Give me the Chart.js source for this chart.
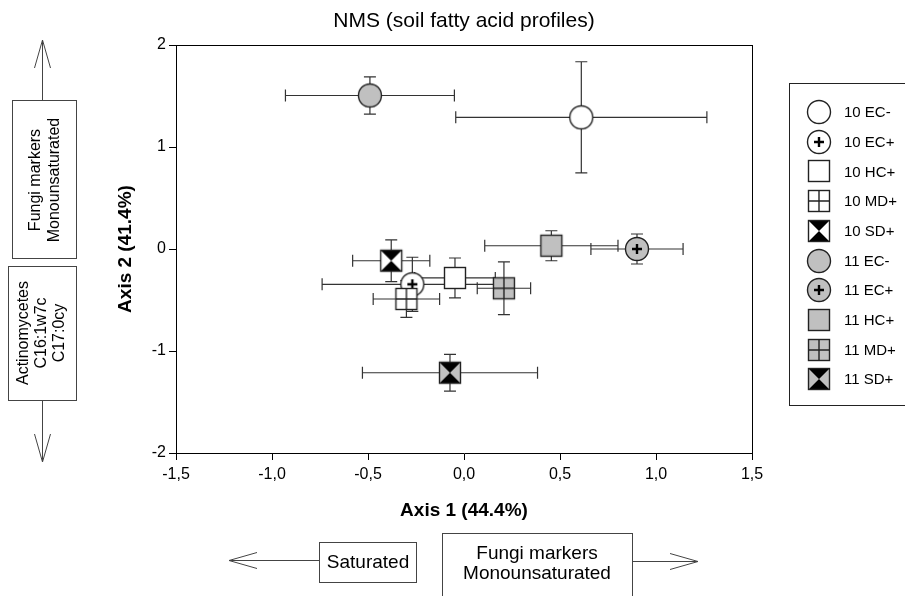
<!DOCTYPE html>
<html>
<head>
<meta charset="utf-8">
<script src="https://cdn.jsdelivr.net/npm/chart.js@4/dist/chart.umd.min.js"></script>
<style>
  html, body { margin: 0; padding: 0; background: #fff; }
  #wrap { width: 905px; height: 596px; }
</style>
</head>
<body>
<div id="wrap"><canvas id="c" width="905" height="596"></canvas></div>
<script>
// canvas text can't use CSS vars, so a literal Arial-ish stack
const FONT = "Arial, 'Liberation Sans', sans-serif";
const LINE = "#333";
const GRAY = "#c0c0c0";

// NMS centroids (axis 1 / axis 2) with +- error, one entry per group
const groups = ["10 EC-", "10 EC+", "10 HC+", "10 MD+", "10 SD+", "11 EC-", "11 EC+", "11 HC+", "11 MD+", "11 SD+"];
const axis1 = [0.611, -0.269, -0.047, -0.300, -0.379, -0.490, 0.901, 0.455, 0.208, -0.073];
const axis2 = [1.291, -0.346, -0.284, -0.490, -0.115, 1.505, 0.000, 0.032, -0.385, -1.213];
const err1 = [0.654, 0.470, 0.210, 0.173, 0.201, 0.440, 0.240, 0.347, 0.139, 0.456];
const err2 = [0.545, 0.265, 0.196, 0.180, 0.204, 0.183, 0.147, 0.147, 0.258, 0.180];
const shapes = ["circle", "circlePlus", "square", "squareCross", "hourglass",
                "circle", "circlePlus", "square", "squareCross", "hourglass"];
const fills = ["#fff", "#fff", "#fff", "#fff", "#fff", GRAY, GRAY, GRAY, GRAY, GRAY];

const xTicks = [-1.5, -1.0, -0.5, 0.0, 0.5, 1.0, 1.5];
const yTicks = [-2, -1, 0, 1, 2];

// small offscreen canvases used as pointStyle images
function marker(shape, fill) {
  const round = shape.startsWith("circle");
  const size = round ? 23 : 21;
  const d = size + 5;
  const c = document.createElement("canvas");
  c.width = d; c.height = d;
  const g = c.getContext("2d");
  const m = d / 2, h = size / 2;
  g.lineWidth = 1.4;
  g.strokeStyle = "#222";
  g.fillStyle = fill;
  if (round) {
    g.beginPath(); g.arc(m, m, h, 0, Math.PI * 2); g.fill(); g.stroke();
    if (shape === "circlePlus") {
      g.lineWidth = 2.4; g.strokeStyle = "#000";
      g.beginPath();
      g.moveTo(m - 5, m); g.lineTo(m + 5, m);
      g.moveTo(m, m - 5); g.lineTo(m, m + 5);
      g.stroke();
    }
  } else {
    const x0 = m - h, y0 = m - h;
    g.fillRect(x0, y0, size, size);
    if (shape === "hourglass") {
      g.fillStyle = "#000";
      g.beginPath();
      g.moveTo(x0, y0); g.lineTo(x0 + size, y0); g.lineTo(m, m); g.closePath();
      g.moveTo(x0, y0 + size); g.lineTo(x0 + size, y0 + size); g.lineTo(m, m); g.closePath();
      g.fill();
    }
    if (shape === "squareCross") {
      g.beginPath();
      g.moveTo(m, y0); g.lineTo(m, y0 + size);
      g.moveTo(x0, m); g.lineTo(x0 + size, m);
      g.stroke();
    }
    g.strokeRect(x0, y0, size, size);
  }
  return c;
}

const markers = shapes.map((s, i) => marker(s, fills[i]));

// later groups sit on top of earlier ones (Chart.js draws low `order` last)
const datasets = groups.map((name, i) => ({
  label: name,
  data: [{ x: axis1[i], y: axis2[i] }],
  err: [err1[i], err2[i]],
  order: groups.length - i,
  pointStyle: markers[i],
  pointRadius: 12,
  pointHoverRadius: 12,
}));

const CAP = 6;

// error bars go under every marker, so draw them all before the datasets
const errorBars = {
  id: "errorBars",
  beforeDatasetsDraw(chart) {
    const { ctx, scales: { x, y } } = chart;
    ctx.save();
    ctx.strokeStyle = LINE;
    ctx.lineWidth = 1.2;
    chart.data.datasets.forEach((ds) => {
      const p = ds.data[0];
      const [ex, ey] = ds.err;
      const px = x.getPixelForValue(p.x), py = y.getPixelForValue(p.y);
      const xl = x.getPixelForValue(p.x - ex), xr = x.getPixelForValue(p.x + ex);
      const yt = y.getPixelForValue(p.y + ey), yb = y.getPixelForValue(p.y - ey);
      ctx.beginPath();
      ctx.moveTo(xl, py); ctx.lineTo(xr, py);
      ctx.moveTo(px, yt); ctx.lineTo(px, yb);
      ctx.moveTo(xl, py - CAP); ctx.lineTo(xl, py + CAP);
      ctx.moveTo(xr, py - CAP); ctx.lineTo(xr, py + CAP);
      ctx.moveTo(px - CAP, yt); ctx.lineTo(px + CAP, yt);
      ctx.moveTo(px - CAP, yb); ctx.lineTo(px + CAP, yb);
      ctx.stroke();
    });
    ctx.restore();
  },
};

function openArrow(ctx, x1, y1, x2, y2) {
  // line from (x1,y1) to tip (x2,y2) with an open V head
  const a = Math.atan2(y2 - y1, x2 - x1);
  const len = 28, half = 8;
  ctx.beginPath();
  ctx.moveTo(x1, y1); ctx.lineTo(x2, y2);
  for (const s of [-1, 1]) {
    ctx.moveTo(x2, y2);
    ctx.lineTo(x2 - len * Math.cos(a) - s * half * Math.sin(a),
               y2 - len * Math.sin(a) + s * half * Math.cos(a));
  }
  ctx.stroke();
}

function vText(ctx, lines, cx, cy, gap) {
  ctx.save();
  ctx.translate(cx, cy);
  ctx.rotate(-Math.PI / 2);
  const off = (lines.length - 1) * gap / 2;
  lines.forEach((t, i) => ctx.fillText(t, 0, -off + i * gap));
  ctx.restore();
}

// title, frame, legend and the arrow/box annotations round the plot
const decor = {
  id: "decor",
  afterDraw(chart) {
    const { ctx, chartArea: a } = chart;
    ctx.save();
    ctx.fillStyle = "#000";
    ctx.textAlign = "center";
    ctx.textBaseline = "middle";
    ctx.font = "21px " + FONT;
    ctx.fillText("NMS (soil fatty acid profiles)", (a.left + a.right) / 2, 21);

    ctx.strokeStyle = "#000";
    ctx.lineWidth = 1;
    ctx.beginPath();
    ctx.moveTo(a.left, Math.round(a.top) + 0.5); ctx.lineTo(a.right, Math.round(a.top) + 0.5);
    ctx.moveTo(Math.round(a.right) + 0.5, a.top); ctx.lineTo(Math.round(a.right) + 0.5, a.bottom);
    ctx.stroke();

    // legend
    ctx.strokeStyle = "#222";
    ctx.strokeRect(789.5, 83.5, 130, 322);
    ctx.textAlign = "left";
    ctx.font = "15px " + FONT;
    groups.forEach((g, i) => {
      const yy = 112 + i * 29.7;
      const mk = markers[i];
      ctx.drawImage(mk, Math.round(819 - mk.width / 2), Math.round(yy - mk.height / 2));
      ctx.fillText(g, 844, yy + 1);
    });

    // left side: vertical boxes + arrows
    ctx.strokeStyle = "#444";
    ctx.lineWidth = 1;
    openArrow(ctx, 42.5, 100, 42.5, 40);
    ctx.strokeRect(12.5, 100.5, 64, 158);
    ctx.strokeRect(8.5, 266.5, 68, 134);
    openArrow(ctx, 42.5, 401, 42.5, 462);
    ctx.textAlign = "center";
    ctx.font = "16px " + FONT;
    vText(ctx, ["Fungi markers", "Monounsaturated"], 45, 180, 19);
    vText(ctx, ["Actinomycetes", "C16:1w7c", "C17:0cy"], 42, 333, 18);

    // bottom: horizontal boxes + arrows
    openArrow(ctx, 319, 560.5, 229, 560.5);
    ctx.strokeRect(319.5, 542.5, 97, 40);
    ctx.strokeRect(442.5, 533.5, 190, 70);
    openArrow(ctx, 632, 561.5, 698, 561.5);
    ctx.font = "19px " + FONT;
    ctx.fillText("Saturated", 368, 563);
    ctx.fillText("Fungi markers", 537, 554);
    ctx.fillText("Monounsaturated", 537, 574);
    ctx.restore();
  },
};

const comma = (v) => v.toFixed(1).replace(".", ",");

new Chart(document.getElementById("c"), {
  type: "scatter",
  data: { datasets },
  plugins: [errorBars, decor],
  options: {
    responsive: false,
    devicePixelRatio: 1,
    animation: false,
    events: [],
    layout: { padding: { top: 45, right: 153, bottom: 0, left: 0 } },
    plugins: { legend: { display: false }, tooltip: { enabled: false }, title: { display: false } },
    scales: {
      x: {
        type: "linear",
        min: xTicks[0],
        max: xTicks[xTicks.length - 1],
        afterBuildTicks: (s) => { s.ticks = xTicks.map((v) => ({ value: v })); },
        afterFit: (s) => { s.height = 143; },
        ticks: { color: "#000", font: { family: FONT, size: 16 }, padding: 5, callback: (v) => comma(v) },
        grid: { drawOnChartArea: false, drawTicks: true, tickLength: 7, color: "#000" },
        border: { display: true, color: "#000", width: 1 },
        title: { display: true, text: "Axis 1 (44.4%)", color: "#000",
                 font: { family: FONT, size: 19, weight: "bold" }, padding: { top: 0, bottom: 73.6 } },
      },
      y: {
        type: "linear",
        min: yTicks[0],
        max: yTicks[yTicks.length - 1],
        afterBuildTicks: (s) => { s.ticks = yTicks.map((v) => ({ value: v })); },
        afterFit: (s) => { s.width = 176; },
        ticks: { color: "#000", font: { family: FONT, size: 16 }, padding: 3, callback: (v) => String(v) },
        grid: { drawOnChartArea: false, drawTicks: true, tickLength: 7, color: "#000" },
        border: { display: true, color: "#000", width: 1 },
        title: { display: true, text: "Axis 2 (41.4%)", color: "#000",
                 font: { family: FONT, size: 19, weight: "bold" }, padding: { top: 114.6, bottom: 0 } },
      },
    },
  },
});
</script>
</body>
</html>
